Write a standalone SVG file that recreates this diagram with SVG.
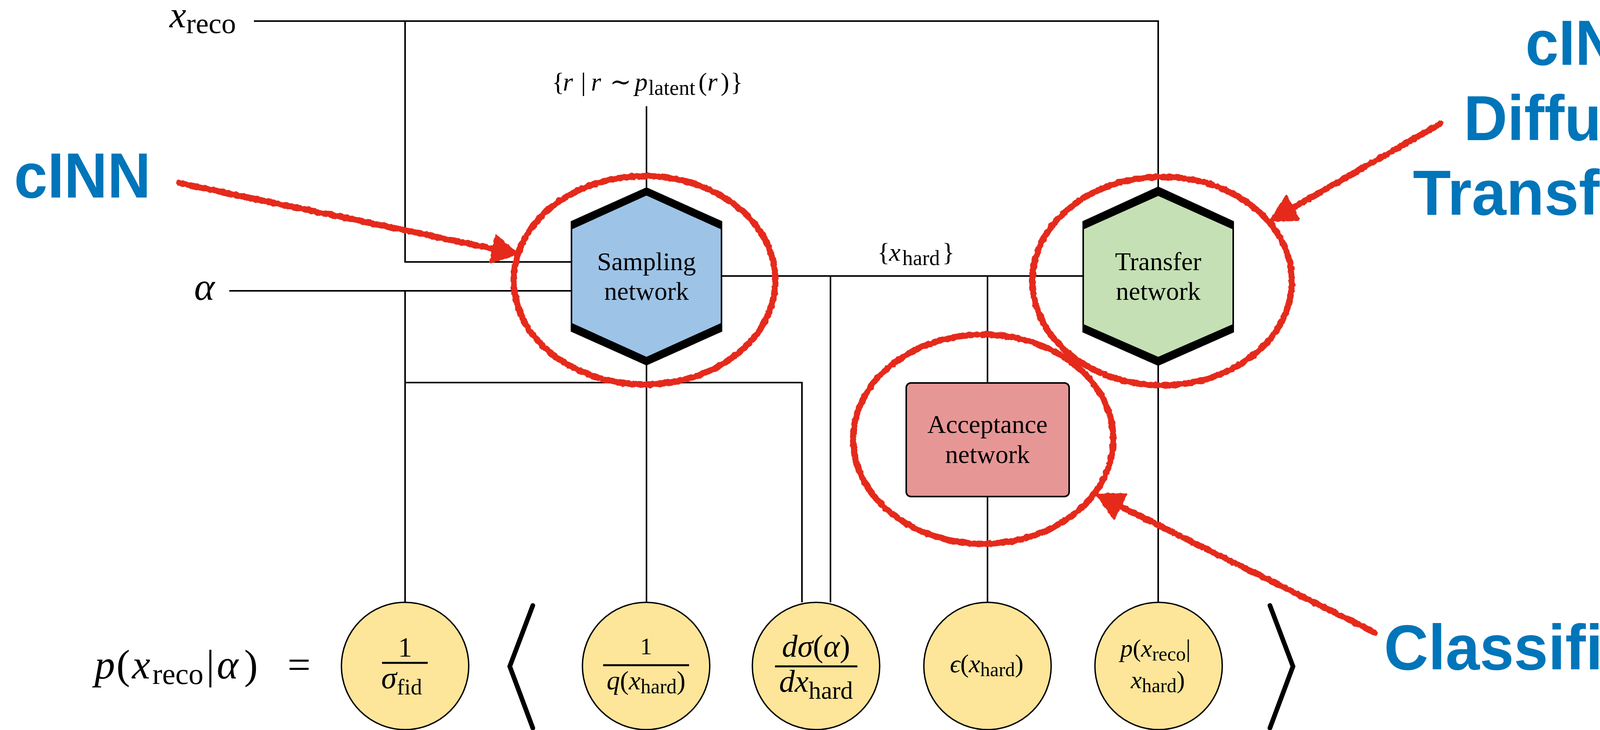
<svg xmlns="http://www.w3.org/2000/svg" width="4614" height="1870" viewBox="0 0 4614 1870">
<style>
.wire{stroke:#000;stroke-width:4;fill:none;stroke-linecap:butt}
.cm{font-family:"Liberation Serif","DejaVu Serif",serif;fill:#000}
.it{font-style:italic}
.lbl{font-family:"Liberation Sans",Arial,sans-serif;font-weight:bold;fill:#0075B9;font-size:163px}
.red{stroke:#E52A1A;fill:none;stroke-width:16;stroke-linecap:round;stroke-linejoin:round}
.redfill{fill:#E52A1A;stroke:#E52A1A;stroke-width:6;stroke-linejoin:round}
.leaf{fill:#FDE59A;stroke:#000;stroke-width:3.5}
.band{fill:#000}
.bar{stroke:#000;stroke-width:5}
.brk{stroke:#000;stroke-width:12;fill:none;stroke-linecap:round;stroke-linejoin:miter}
</style>
<defs>
<filter id="rough" x="-10%" y="-10%" width="120%" height="120%">
<feTurbulence type="fractalNoise" baseFrequency="0.09" numOctaves="2" seed="3" result="n"/>
<feDisplacementMap in="SourceGraphic" in2="n" scale="7" xChannelSelector="R" yChannelSelector="G"/>
</filter>
</defs>
<rect width="4614" height="1870" fill="#fff"/>

<g id="connectors">
<polyline class="wire" points="650,54 2965,54 2965,482"/>
<polyline class="wire" points="1037,54 1037,671 1463,671"/>
<line class="wire" x1="587" y1="745" x2="1463" y2="745"/>
<line class="wire" x1="1037" y1="745" x2="1037" y2="1543"/>
<polyline class="wire" points="1037,980 2053,980 2053,1543"/>
<line class="wire" x1="1655" y1="272" x2="1655" y2="482"/>
<line class="wire" x1="1655" y1="934" x2="1655" y2="1543"/>
<line class="wire" x1="1847" y1="707" x2="2772" y2="707"/>
<line class="wire" x1="2126" y1="707" x2="2126" y2="1543"/>
<line class="wire" x1="2528" y1="707" x2="2528" y2="981"/>
<line class="wire" x1="2528" y1="1272" x2="2528" y2="1543"/>
<line class="wire" x1="2965" y1="935" x2="2965" y2="1543"/>
</g>

<g id="input-xreco">
<text class="cm" x="434" y="70" font-size="96"><tspan class="it">x</tspan><tspan font-size="74" dy="15">reco</tspan></text>
</g>
<g id="input-alpha">
<text class="cm it" x="497" y="768" font-size="100">α</text>
</g>
<g id="latent-label">
<text class="cm" y="232" font-size="66"><tspan x="1413">{</tspan><tspan class="it" x="1441">r</tspan><tspan x="1487">|</tspan><tspan class="it" x="1513">r</tspan><tspan x="1561">∼</tspan><tspan class="it" x="1625">p</tspan><tspan x="1660" font-size="54" dy="11">latent</tspan><tspan x="1788" dy="-11">(</tspan><tspan class="it" x="1811">r</tspan><tspan x="1845">)</tspan><tspan x="1870">}</tspan></text>
</g>
<g id="xhard-label">
<text class="cm" y="668" font-size="66"><tspan x="2246">{</tspan><tspan class="it" x="2276">x</tspan><tspan x="2310" font-size="54" dy="11">hard</tspan><tspan x="2412" dy="-11">}</tspan></text>
</g>

<g id="sampling-network">
<polygon points="1463,568 1655,482 1847,568 1847,848 1655,934 1463,848" fill="#9DC3E6" stroke="#000" stroke-width="4"/>
<polygon class="band" points="1463,568 1655,482 1847,568 1847,588 1655,501 1463,588"/>
<polygon class="band" points="1463,827 1655,914 1847,827 1847,848 1655,934 1463,848"/>
<text class="cm" x="1655" y="692" font-size="66" text-anchor="middle">Sampling</text>
<text class="cm" x="1655" y="768" font-size="66" text-anchor="middle">network</text>
</g>

<g id="transfer-network">
<polygon points="2773,568 2965,480 3157,568 3157,850 2965,935 2773,850" fill="#C5E0B4" stroke="#000" stroke-width="4"/>
<polygon class="band" points="2773,568 2965,480 3157,568 3157,588 2965,502 2773,588"/>
<polygon class="band" points="2773,830 2965,914 3157,830 3157,850 2965,935 2773,850"/>
<text class="cm" x="2965" y="692" font-size="66" text-anchor="middle">Transfer</text>
<text class="cm" x="2965" y="768" font-size="66" text-anchor="middle">network</text>
</g>

<g id="acceptance-network">
<rect x="2320" y="981" width="417" height="291" rx="12" fill="#E79696" stroke="#000" stroke-width="4"/>
<text class="cm" x="2528" y="1109" font-size="66" text-anchor="middle">Acceptance</text>
<text class="cm" x="2528" y="1186" font-size="66" text-anchor="middle">network</text>
</g>

<g id="equation-lhs">
<text class="cm" y="1738" font-size="105"><tspan class="it" x="242">p</tspan><tspan x="298">(</tspan><tspan class="it" x="338">x</tspan><tspan x="390" font-size="76" dy="14">reco</tspan><tspan x="528" dy="-14">|</tspan><tspan class="it" x="555">α</tspan><tspan x="625">)</tspan><tspan x="736">=</tspan></text>
</g>

<g id="bracket-left"><polyline class="brk" points="1364,1551 1305,1707 1364,1865"/></g>
<g id="bracket-right"><polyline class="brk" points="3251,1551 3310,1707 3251,1865"/></g>

<g id="term-sigma-fid">
<circle class="leaf" cx="1037" cy="1706" r="163"/>
<text class="cm" x="1037" y="1682" font-size="72" text-anchor="middle">1</text>
<line class="bar" x1="978" y1="1698" x2="1095" y2="1698"/>
<text class="cm" y="1763" font-size="80"><tspan class="it" x="976">σ</tspan><tspan x="1016" font-size="58" dy="16">fid</tspan></text>
</g>

<g id="term-q">
<circle class="leaf" cx="1654" cy="1706" r="163"/>
<text class="cm" x="1654" y="1676" font-size="62" text-anchor="middle">1</text>
<line class="bar" x1="1544" y1="1704" x2="1764" y2="1704" stroke-width="4"/>
<text class="cm" x="1654" y="1766" font-size="68" text-anchor="middle"><tspan class="it">q</tspan>(<tspan class="it">x</tspan><tspan font-size="52" dy="10">hard</tspan><tspan dy="-10">)</tspan></text>
</g>

<g id="term-dsigma">
<circle class="leaf" cx="2089" cy="1706" r="163"/>
<text class="cm" x="2089" y="1682" font-size="80" text-anchor="middle"><tspan class="it">dσ</tspan>(<tspan class="it">α</tspan>)</text>
<line class="bar" x1="1984" y1="1707" x2="2195" y2="1707"/>
<text class="cm" x="2089" y="1772" font-size="80" text-anchor="middle"><tspan class="it">dx</tspan><tspan font-size="64" dy="18">hard</tspan></text>
</g>

<g id="term-epsilon">
<circle class="leaf" cx="2528" cy="1706" r="163"/>
<text class="cm" x="2526" y="1722" font-size="66" text-anchor="middle"><tspan class="it">ϵ</tspan>(<tspan class="it">x</tspan><tspan font-size="50" dy="10">hard</tspan><tspan dy="-10">)</tspan></text>
</g>

<g id="term-p-transfer">
<circle class="leaf" cx="2966" cy="1706" r="163"/>
<text class="cm" x="2958" y="1682" font-size="64" text-anchor="middle"><tspan class="it">p</tspan>(<tspan class="it">x</tspan><tspan font-size="50" dy="10">reco</tspan><tspan dy="-10">|</tspan></text>
<text class="cm" x="2964" y="1763" font-size="64" text-anchor="middle"><tspan class="it">x</tspan><tspan font-size="50" dy="10">hard</tspan><tspan dy="-10">)</tspan></text>
</g>

<g id="annotations" filter="url(#rough)">
<ellipse class="red" cx="1650" cy="718" rx="335" ry="267"/>
<ellipse class="red" cx="2975" cy="720" rx="332" ry="267"/>
<ellipse class="red" cx="2517" cy="1125" rx="333" ry="268"/>
<line class="red" x1="459" y1="469" x2="1275" y2="640" stroke-width="12"/>
<polygon class="redfill" points="1322,650 1256,672 1270,604"/>
<line class="red" x1="3687" y1="317" x2="3300" y2="538" stroke-width="12"/>
<polygon class="redfill" points="3253,565 3326,563 3292,503"/>
<line class="red" x1="3519" y1="1620" x2="2858" y2="1292" stroke-width="12"/>
<polygon class="redfill" points="2809,1268 2883,1266 2851,1328"/>
</g>

<g id="label-cinn-left"><text class="lbl" x="36" y="506" textLength="350" lengthAdjust="spacingAndGlyphs">cINN</text></g>
<g id="label-right">
<text class="lbl" x="3905" y="166" textLength="348" lengthAdjust="spacingAndGlyphs">cINN</text>
<text class="lbl" x="3747" y="359" textLength="671" lengthAdjust="spacingAndGlyphs">Diffusion</text>
<text class="lbl" x="3617" y="550" textLength="929" lengthAdjust="spacingAndGlyphs">Transformer</text>
</g>
<g id="label-classifier"><text class="lbl" x="3543" y="1715" textLength="709" lengthAdjust="spacingAndGlyphs">Classifier</text></g>
</svg>
